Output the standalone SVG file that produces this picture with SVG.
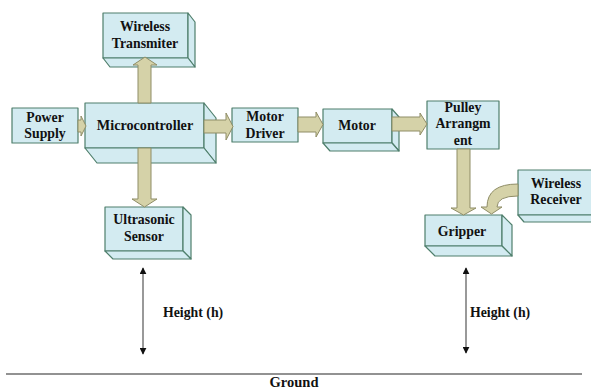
<svg xmlns="http://www.w3.org/2000/svg" width="591" height="390" viewBox="0 0 591 390">
<defs>
<style>
.box{fill:#d3ebf1;stroke:#4f7f6c;stroke-width:1.2;stroke-linejoin:round}
.lbl{font-family:"Liberation Serif","Times New Roman",serif;font-weight:bold;font-size:13.8px;fill:#111;text-anchor:middle}
.arr{fill:#d5d2a8;stroke:#8f8d66;stroke-width:1;stroke-linejoin:miter}
.dim{stroke:#555;stroke-width:1.2;fill:none}
</style>
<marker id="tri" viewBox="0 0 10 10" refX="9" refY="5" markerWidth="7" markerHeight="7" orient="auto-start-reverse" markerUnits="userSpaceOnUse">
<path d="M0,0 L10,5 L0,10 Z" fill="#111"/>
</marker>
</defs>
<rect width="591" height="390" fill="#fff"/>

<g id="wireless-transmitter">
<rect class="box" x="103" y="13" width="85" height="45"/>
<polygon class="box" points="188,13 195,22 195,67 188,58"/>
<polygon class="box" points="103,58 188,58 195,67 110,67"/>
<text class="lbl" x="145" y="31">Wireless</text>
<text class="lbl" x="145" y="48">Transmiter</text>
</g>

<g id="power-supply">
<rect class="box" x="12" y="108" width="66" height="35"/>
<text class="lbl" x="45" y="122">Power</text>
<text class="lbl" x="45" y="138">Supply</text>
</g>

<g id="microcontroller">
<rect class="box" x="85" y="103" width="119" height="45"/>
<polygon class="box" points="204,103 216,118 216,163 204,148"/>
<polygon class="box" points="85,148 204,148 216,163 97,163"/>
<text class="lbl" x="145" y="130" style="font-size:14.2px">Microcontroller</text>
</g>

<g id="motor-driver">
<rect class="box" x="232" y="108" width="66" height="34"/>
<text class="lbl" x="265" y="121">Motor</text>
<text class="lbl" x="265" y="138">Driver</text>
</g>

<g id="motor">
<rect class="box" x="323" y="109" width="69" height="34"/>
<polygon class="box" points="392,109 399,117 399,151 392,143"/>
<polygon class="box" points="323,143 392,143 399,151 330,151"/>
<text class="lbl" x="357" y="130">Motor</text>
</g>

<g id="pulley-arrangment">
<rect class="box" x="427" y="101" width="72" height="48"/>
<text class="lbl" x="463" y="112">Pulley</text>
<text class="lbl" x="463" y="128">Arrangm</text>
<text class="lbl" x="463" y="145">ent</text>
</g>

<g id="wireless-receiver">
<rect class="box" x="518" y="170" width="80" height="45"/>
<polygon class="box" points="518,215 598,215 604,222 524,222"/>
<text class="lbl" x="556" y="188">Wireless</text>
<text class="lbl" x="556" y="204">Receiver</text>
</g>

<g id="gripper">
<rect class="box" x="425" y="215" width="77" height="31"/>
<polygon class="box" points="502,215 512,225 512,256 502,246"/>
<polygon class="box" points="425,246 502,246 512,256 435,256"/>
<text class="lbl" x="462" y="236">Gripper</text>
</g>

<g id="ultrasonic-sensor">
<rect class="box" x="105" y="207" width="78" height="44"/>
<polygon class="box" points="183,207 191,215 191,259 183,251"/>
<polygon class="box" points="105,251 183,251 191,259 113,259"/>
<text class="lbl" x="144" y="224">Ultrasonic</text>
<text class="lbl" x="144" y="241">Sensor</text>
</g>

<g id="connectors">
<polygon class="arr" points="78,120 81,120 81,116 86,126 81,136 81,132 78,132"/>
<polygon class="arr" points="204,120 226,120 226,113 233,126.5 226,140 226,133 204,133"/>
<polygon class="arr" points="298,117 316,117 316,112 323,124.5 316,137 316,132 298,132"/>
<polygon class="arr" points="392,117 420,117 420,113 427,124 420,135 420,131 392,131"/>
<polygon class="arr" points="138,103 138,65 133,65 145,57 157,65 151,65 151,103"/>
<polygon class="arr" points="138,148 138,199 132,199 144.5,207 157,199 151,199 151,148"/>
<polygon class="arr" points="457,149 457,208 451,208 463.5,215 476,208 470,208 470,149"/>
<path class="arr" d="M518,184 Q487,184 487,207 L481,207 L491.5,214 L502,207 L497,207 Q497,196 518,196 Z"/>
<line class="dim" x1="143" y1="268" x2="143" y2="354" marker-start="url(#tri)" marker-end="url(#tri)"/>
<line class="dim" x1="466" y1="268" x2="466" y2="353" marker-start="url(#tri)" marker-end="url(#tri)"/>
<line x1="6" y1="374" x2="582" y2="374" stroke="#6e6e6e" stroke-width="1.5"/>
</g>

<text class="lbl" x="163" y="317" style="text-anchor:start">Height (h)</text>
<text class="lbl" x="470" y="317" style="text-anchor:start">Height (h)</text>
<text class="lbl" x="294" y="387" style="font-size:14.5px">Ground</text>
</svg>
